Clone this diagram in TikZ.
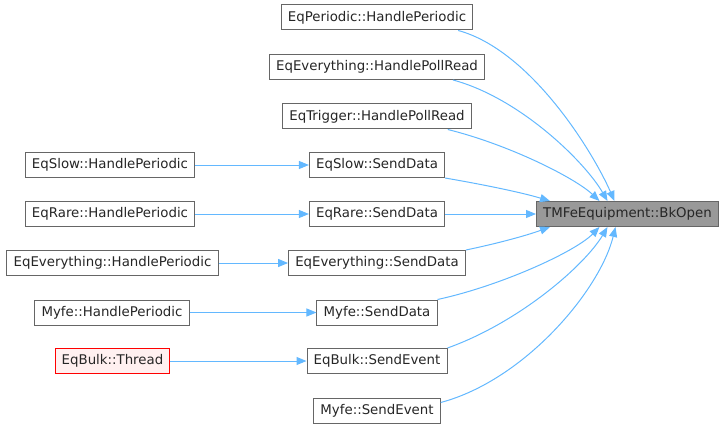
\documentclass[tikz,border=0pt]{standalone}
\usepackage{fontspec}
\setmainfont{DejaVu Sans}
\usetikzlibrary{arrows.meta,calc}
\definecolor{edgeblue}{HTML}{63B8FF}
\definecolor{boxgray}{HTML}{666666}
\definecolor{focusfill}{HTML}{999999}
\definecolor{redfill}{HTML}{FFF0F0}
\tikzset{
  fn/.style={draw=boxgray, line width=0.75pt, fill=white, minimum height=18.75pt, inner xsep=5pt, inner ysep=0pt, font=\fontsize{10}{12}\selectfont, text=black!85},
  focus/.style={fn, fill=focusfill},
  redbox/.style={fn, draw=red, fill=redfill},
  call/.style={draw=edgeblue, line width=0.75pt, -{Triangle[length=7.5pt,width=6pt]}},
}
\begin{document}
\begin{tikzpicture}[x=0.75pt,y=-0.75pt]
\useasboundingbox (0,0) rectangle (727,431);
\node[focus] (bk) at (627.5,214) {TMFeEquipment::BkOpen};
\node[fn] (p1) at (377,17.5) {EqPeriodic::HandlePeriodic};
\node[fn] (p2) at (377,67) {EqEverything::HandlePollRead};
\node[fn] (p3) at (377,116.5) {EqTrigger::HandlePollRead};
\node[fn] (s1) at (377,165) {EqSlow::SendData};
\node[fn] (s2) at (377,214) {EqRare::SendData};
\node[fn] (s3) at (377,263) {EqEverything::SendData};
\node[fn] (s4) at (377,312.5) {Myfe::SendData};
\node[fn] (s5) at (377,361) {EqBulk::SendEvent};
\node[fn] (s6) at (377,410.5) {Myfe::SendEvent};
\node[fn] (l1) at (110,165) {EqSlow::HandlePeriodic};
\node[fn] (l2) at (110,214) {EqRare::HandlePeriodic};
\node[fn] (l3) at (112.5,263) {EqEverything::HandlePeriodic};
\node[fn] (l4) at (112,312.5) {Myfe::HandlePeriodic};
\node[redbox] (l5) at (112.5,361) {EqBulk::Thread};

\draw[call] ($(p1.south east)+(-15,0)$) .. controls (530,50) and (592,150) .. ($(bk.north)+(-13,0)$);
\draw[call] ($(p2.south east)+(-32,0)$) .. controls (520,98) and (585,162) .. ($(bk.north)+(-20,0)$);
\draw[call] ($(p3.south east)+(-24,0)$) .. controls (510,145) and (575,178) .. ($(bk.north)+(-28,0)$);
\draw[call] ($(s1.south east)+(0,0)$) .. controls (480,184) and (520,192) .. ($(bk.north west)+(14,0)$);
\draw[call] (s2) -- (bk);
\draw[call] ($(s3.north east)+(0,0)$) .. controls (495,244) and (525,236) .. ($(bk.south west)+(14,0)$);
\draw[call] ($(s4.north east)+(0,0)$) .. controls (500,286) and (575,252) .. ($(bk.south)+(-28,0)$);
\draw[call] ($(s5.north east)+(0,0)$) .. controls (520,322) and (585,265) .. ($(bk.south)+(-20,0)$);
\draw[call] ($(s6.north east)+(0,5)$) .. controls (525,380) and (600,290) .. ($(bk.south)+(-12,0)$);

\draw[call] (l1) -- (s1);
\draw[call] (l2) -- (s2);
\draw[call] (l3) -- (s3);
\draw[call] (l4) -- (s4);
\draw[call] (l5) -- (s5);
\end{tikzpicture}
\end{document}
